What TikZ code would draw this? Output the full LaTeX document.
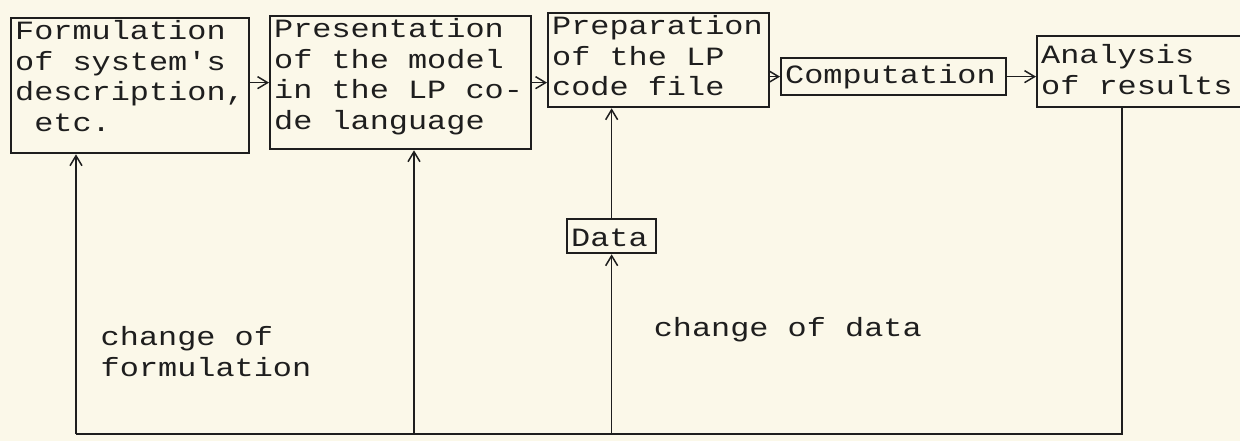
\documentclass[tikz,border=0pt]{standalone}
\usepackage{fontspec}
\newfontfamily\tapefont{Liberation Mono}[FakeStretch=1.21]
\usetikzlibrary{arrows.meta}
\definecolor{paper}{RGB}{251,248,233}
\definecolor{ink}{RGB}{30,30,30}
\newcommand{\boxfont}{\tapefont\fontsize{15pt}{17.6pt}\selectfont}

\begin{document}
\begin{tikzpicture}[x=0.2mm, y=-0.2mm, >={Straight Barb[length=2mm, width=2.4mm]}, line width=0.85pt,
    stage/.style={draw=ink, line width=1.3pt, anchor=north west, inner xsep=0.8mm, inner ysep=0.5mm, align=flush left, font=\boxfont, text=ink, text height=3.7mm},
    note/.style={anchor=west, inner sep=0pt, align=flush left, font=\boxfont, text=ink} ]
  \path[use as bounding box, fill=paper] (0,0) rectangle (1240,441);
  \clip (0,0) rectangle (1240,441);

  \node[stage, text width=46mm,   text depth=22.3mm] (F) at (10,17)   {Formulation\\of system's\\description,\\\phantom{x}etc.};
  \node[stage, text width=50.6mm, text depth=21.9mm] (P) at (269,15)  {Presentation\\of the model\\in the LP co-\\de language};
  \node[stage, text width=42.6mm, text depth=14.1mm] (L) at (547,12)  {Preparation\\of the LP\\code file};
  \node[stage, text width=43.4mm, text height=4.5mm, text depth=1.9mm] (C) at (780,57)  {Computation};
  \node[stage, text width=44.4mm, text height=4.9mm, text depth=8.3mm] (R) at (1036,35) {Analysis\\of results};
  \node[stage, text width=16.2mm, text height=4.9mm, text depth=0.9mm] (D) at (566,218) {Data};

  % bottom line of the feedback loop
  \coordinate (F0) at (76,434);
  \coordinate (P0) at (414,434);
  \coordinate (R0) at (1122,434);
  \coordinate (D0) at (D |- R0);

  \path[->, ink]
    % main chain
    (F.east |- P) edge (P)
    (P)           edge (P.east -| L.west)
    (L.east |- C) edge (C)
    (C)           edge (C.east -| R.west)
    % back to the earlier steps
    (F0)          edge (F0 |- F.south)
    (P0)          edge (P0 |- P.south)
    (D0)          edge (D)
    (D.north)     edge (D.north |- L.south);
  \draw[ink] (R.south -| R0) -- (R0) -- (F0);

  \node[note] (Lf) at (100,352) {change of\\formulation};
  \node[note] (Ld) at (653,330) {change of data};
\end{tikzpicture}
\end{document}
